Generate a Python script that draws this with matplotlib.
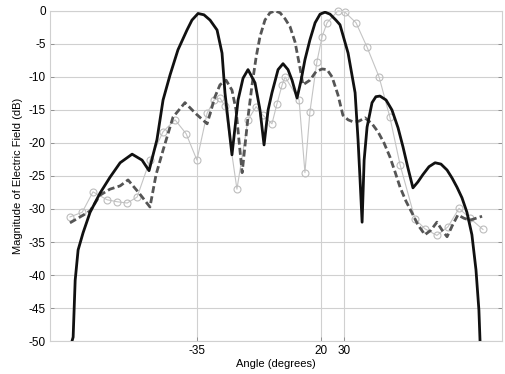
import matplotlib
matplotlib.use("Agg")
import matplotlib.pyplot as plt

plt.rcParams["font.family"] = ["Liberation Sans", "DejaVu Sans"]
plt.rcParams["axes.unicode_minus"] = False

# solid curve (black)
solid_ang = [-90.3, -89.8, -88.9, -87.6, -85.4, -82.3, -77.9, -73.5, -69.0, -63.7,
             -59.3, -56.2, -52.7, -50.0, -46.9, -43.4, -39.4, -37.2, -34.5, -31.9,
             -29.2, -26.1, -23.9, -22.6, -19.5, -16.8, -14.6, -12.4, -9.3, -7.1,
             -5.3, -3.5, -1.8, 0.9, 3.1, 5.3, 7.1, 9.3, 11.1, 12.8,
             15.0, 17.3, 19.5, 21.7, 23.9, 26.5, 28.3, 31.9, 35.0, 36.3,
             37.2, 38.1, 39.0, 40.3, 42.5, 44.2, 46.0, 48.7, 51.3, 54.0,
             56.2, 58.4, 60.6, 62.8, 65.0, 67.7, 70.4, 73.0, 75.7, 77.9,
             80.1, 82.3, 84.5, 86.7, 88.5, 89.8, 90.3]
solid_db = [-50.0, -49.4, -40.8, -36.2, -33.6, -30.5, -27.6, -25.2, -23.0, -21.7,
            -22.6, -24.2, -19.5, -13.5, -9.7, -5.9, -2.9, -1.4, -0.4, -0.6,
            -1.4, -2.9, -6.4, -12.4, -21.8, -13.5, -10.2, -8.9, -10.9, -15.0,
            -20.3, -15.0, -12.4, -8.9, -8.0, -8.9, -10.5, -13.2, -10.5, -7.4,
            -4.4, -1.8, -0.5, -0.2, -0.5, -1.4, -2.1, -6.4, -12.4, -19.5,
            -25.6, -32.0, -22.6, -17.6, -13.9, -13.0, -12.9, -13.5, -15.0, -17.7,
            -20.6, -23.8, -26.8, -25.9, -24.8, -23.6, -23.0, -23.2, -24.1, -25.3,
            -26.7, -28.3, -30.5, -33.9, -39.2, -45.3, -50.0]

# dashed curve (dark grey)
dash_ang = [-91.2, -86.7, -82.3, -77.9, -73.5, -69.0, -65.5, -60.6, -55.8, -53.1,
            -50.0, -45.6, -40.3, -35.4, -30.5, -27.0, -24.8, -22.1, -19.5, -17.7,
            -15.0, -12.4, -10.6, -8.8, -7.1, -4.9, -2.7, -0.4, 1.8, 4.0,
            6.2, 8.4, 10.6, 11.9, 15.0, 17.7, 20.4, 22.6, 24.8, 27.4,
            29.6, 31.9, 34.1, 36.7, 39.4, 42.5, 45.1, 47.8, 50.4, 52.7,
            54.9, 57.5, 60.2, 62.8, 65.9, 68.6, 71.2, 73.5, 75.7, 77.9,
            80.5, 83.2, 85.8, 88.5, 91.2]
dash_db = [-32.1, -31.2, -30.3, -27.9, -27.0, -26.5, -25.6, -27.6, -29.7, -24.8,
           -21.1, -16.1, -13.9, -15.6, -17.1, -13.0, -11.2, -10.5, -12.0, -15.0,
           -24.5, -16.1, -11.2, -7.0, -3.9, -1.4, -0.3, 0.0, -0.3, -1.2,
           -2.4, -4.7, -8.6, -11.2, -10.5, -9.2, -8.8, -8.9, -10.0, -12.7,
           -15.8, -16.5, -16.8, -16.7, -16.2, -17.1, -18.3, -20.0, -22.1, -24.4,
           -26.7, -28.8, -30.6, -32.4, -33.9, -33.2, -32.0, -33.2, -34.2, -32.6,
           -30.9, -31.4, -31.7, -31.4, -31.1]

# light grey line with circles
circ_ang = [-91.2, -85.8, -81.0, -74.8, -70.4, -65.9, -61.5, -55.8, -50.0, -44.7,
            -39.8, -35.0, -30.5, -27.4, -24.8, -22.6, -17.3, -12.4, -8.8, -5.8,
            -1.8, 0.4, 2.7, 4.0, 10.2, 12.8, 15.0, 18.1, 20.4, 22.6,
            27.4, 30.5, 35.4, 40.3, 45.6, 50.4, 54.9, 61.5, 65.9, 71.2,
            76.1, 81.0, 85.8, 91.6]
circ_db = [-31.2, -30.5, -27.4, -28.6, -28.9, -29.1, -28.2, -22.6, -18.3, -16.5,
           -18.6, -22.6, -15.5, -13.5, -13.2, -14.4, -27.0, -16.5, -14.5, -15.8,
           -17.1, -14.1, -11.2, -10.0, -13.5, -24.5, -15.3, -7.7, -3.9, -1.8,
           0.0, -0.2, -1.8, -5.5, -10.0, -16.1, -23.3, -31.5, -33.0, -34.0,
           -32.7, -29.9, -31.4, -33.1]

xticks = [-35, 20, 30]
yticks = [0, -5, -10, -15, -20, -25, -30, -35, -40, -45, -50]

fig = plt.figure(figsize=(5.06, 3.74), dpi=100)
ax = fig.add_axes([0.099, 0.088, 0.893, 0.883])

ax.plot(circ_ang, circ_db, color="#c4c4c4", lw=0.8, marker="o", ms=5,
        mfc="none", mec="#bdbdbd", mew=0.8, clip_on=False, zorder=2)
ax.plot(dash_ang, dash_db, color="#555555", lw=2.0, ls=(0, (2.5, 1.2)), zorder=3)
ax.plot(solid_ang, solid_db, color="#111111", lw=2.0, zorder=4)

ax.set_xlim(-100, 100)
ax.set_ylim(-50, 0)
ax.set_xticks(xticks)
ax.set_xticklabels([str(t) for t in xticks])
ax.set_yticks(yticks)
ax.grid(True, color="#d0d0d0", lw=0.8)
ax.tick_params(direction="in", length=3, width=0.6, color="#888888",
               labelsize=8.5, right=True, top=False, pad=3)
for s in ax.spines.values():
    s.set_color("#d0d0d0")
    s.set_linewidth(0.8)

ax.set_xlabel("Angle (degrees)", fontsize=8, labelpad=1)
ax.set_ylabel("Magnitude of Electric Field (dB)", fontsize=8, labelpad=4)

fig.savefig("out.png", dpi=100)
